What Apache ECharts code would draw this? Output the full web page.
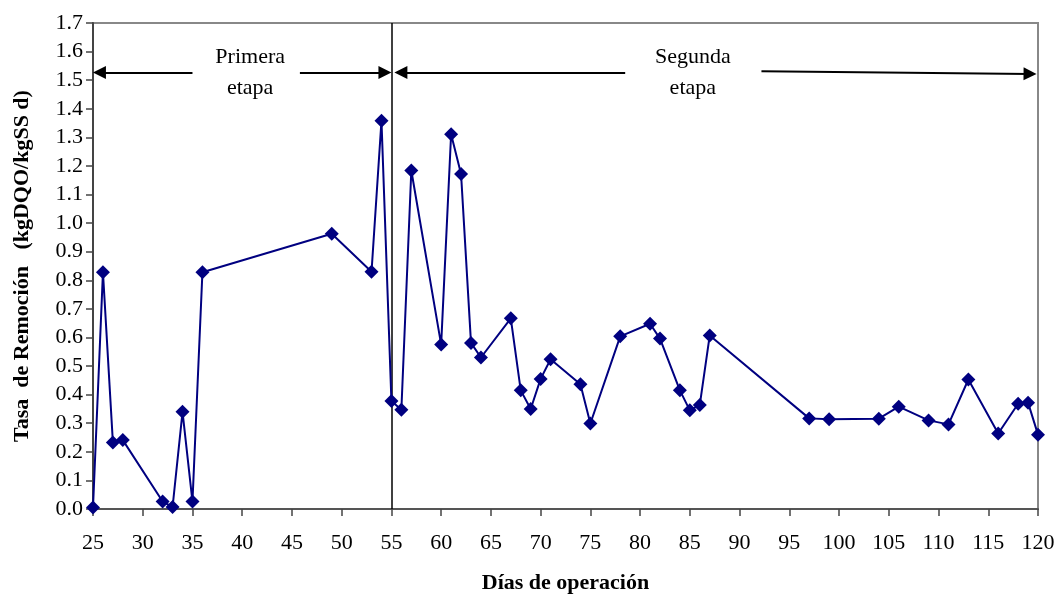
<!DOCTYPE html>
<html><head><meta charset="utf-8">
<script src="https://cdn.jsdelivr.net/npm/echarts@6/dist/echarts.min.js"></script>
<style>html,body{margin:0;padding:0;background:#fff}#c{width:1058px;height:599px}</style>
</head><body><div id="c"></div>
<script>
// Data
const days = [25,26,27,28,32,33,34,35,36,49,53,54,55,56,57,60,61,62,63,64,67,68,69,70,71,74,75,78,81,82,84,85,86,87,97,99,104,106,109,111,113,116,118,119,120];
const tasa = [0.005,0.828,0.233,0.241,0.026,0.007,0.340,0.026,0.828,0.963,0.830,1.358,0.378,0.347,1.184,0.575,1.311,1.172,0.581,0.530,0.667,0.415,0.350,0.455,0.524,0.436,0.299,0.604,0.648,0.596,0.415,0.345,0.364,0.607,0.317,0.314,0.316,0.358,0.310,0.296,0.453,0.264,0.368,0.372,0.260];
const stageNames = ['Primera\netapa', 'Segunda\netapa'];
const stageNameDay = [40.8, 85.3];
const stageNameLevel = [1.527, 1.527];
const stageDivider = 55;
// arrow segments: [fromDay, fromLevel, toDay, toLevel, arrowAt]
const arrowSegments = [
  [25.65, 1.527, 35, 1.527, 'start'],
  [45.8, 1.527, 54.35, 1.527, 'end'],
  [55.95, 1.527, 78.5, 1.527, 'start'],
  [92.2, 1.531, 119.2, 1.522, 'end']
];
const xTitle = 'Días de operación';
const yTitle = 'Tasa  de Remoción   (kgDQO/kgSS d)';

const FONT = "'Liberation Serif', 'Times New Roman', serif";
const chart = echarts.init(document.getElementById('c'), null, {renderer: 'canvas'});

const arrowData = arrowSegments.map(s => [
  {coord: [s[0], s[1]], symbol: s[4] === 'start' ? 'triangle' : 'none'},
  {coord: [s[2], s[3]], symbol: s[4] === 'end' ? 'triangle' : 'none'}
]);

chart.setOption({
  animation: false,
  backgroundColor: '#fff',
  grid: {left: 93, right: 20, top: 23, bottom: 88, show: true, borderColor: '#888', borderWidth: 2},
  xAxis: {
    type: 'value', min: 25, max: 120, interval: 5,
    name: xTitle, nameLocation: 'middle', nameGap: 63,
    nameTextStyle: {fontFamily: FONT, fontSize: 22, fontWeight: 'bold', color: '#000'},
    axisLine: {show: true, onZero: false, lineStyle: {color: '#555', width: 2}},
    axisTick: {show: true, length: 7, lineStyle: {color: '#444', width: 1.5}},
    axisLabel: {fontFamily: FONT, fontSize: 22, color: '#000', margin: 23},
    splitLine: {show: false}
  },
  yAxis: {
    type: 'value', min: 0, max: 1.7, interval: 0.1,
    name: yTitle, nameLocation: 'middle', nameGap: 60, nameRotate: 90,
    nameTextStyle: {fontFamily: FONT, fontSize: 22, fontWeight: 'bold', color: '#000'},
    axisLine: {show: true, lineStyle: {color: '#444', width: 2}},
    axisTick: {show: true, length: 7, lineStyle: {color: '#444', width: 1.5}},
    axisLabel: {fontFamily: FONT, fontSize: 22, color: '#000', margin: 10, formatter: v => v.toFixed(1)},
    splitLine: {show: false}
  },
  series: [
    {
      type: 'line',
      data: days.map((d, i) => [d, tasa[i]]),
      symbol: 'diamond', symbolSize: 14,
      itemStyle: {color: '#000080'},
      lineStyle: {color: '#000080', width: 2},
      z: 5,
      markLine: {
        silent: true,
        symbol: 'none',
        label: {show: false},
        lineStyle: {color: '#000', width: 1.5, type: 'solid'},
        data: [{xAxis: stageDivider}]
      }
    },
    {
      type: 'line',
      data: [],
      markLine: {
        silent: true,
        symbolSize: [13, 13],
        label: {show: false},
        lineStyle: {color: '#000', width: 2, type: 'solid'},
        itemStyle: {color: '#000'},
        data: arrowData
      }
    },
    {
      type: 'scatter',
      symbolSize: 0,
      silent: true,
      itemStyle: {opacity: 1, color: '#000'},
      data: stageNames.map((n, i) => ({name: n, value: [stageNameDay[i], stageNameLevel[i]]})),
      label: {
        show: true, position: 'inside', formatter: p => p.name,
        fontFamily: FONT, fontSize: 22, color: '#000', lineHeight: 31, align: 'center',
        textBorderWidth: 0
      }
    }
  ]
});
</script></body></html>
